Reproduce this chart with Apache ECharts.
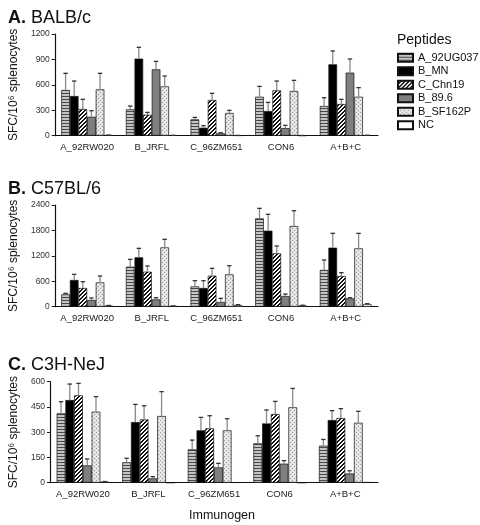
<!DOCTYPE html>
<html><head><meta charset="utf-8">
<script src="https://cdn.jsdelivr.net/npm/echarts@6/dist/echarts.min.js"></script>
<style>html,body{margin:0;padding:0;background:#fff}#c{width:480px;height:525px}</style>
</head><body><div id="c"></div>
<script>
const categories = ['A_92RW020','B_JRFL','C_96ZM651','CON6','A+B+C'];
const peptides = ['A_92UG037','B_MN','C_Chn19','B_89.6','B_SF162P','NC'];
const panelTitles = ['A.|BALB/c','B.|C57BL/6','C.|C3H-NeJ'];
const yMax = [1200, 2400, 600];
const yStep = [300, 600, 150];

// BALB/c means (per peptide, per immunogen) and SD
const balbMeans = [[539,311,193,460,350],[468,909,94,291,842],[315,248,421,535,374],[224,783,28,90,744],[547,582,268,527,460],[6,4,3,2,5]];
const balbSD    = [[197,39,23,122,98],[177,134,24,102,158],[114,27,79,110,55],[71,94,7,32,161],[189,122,31,126,107],[2,1,1,1,1]];
// C57BL/6
const c57Means = [[291,944,480,2085,866],[630,1165,441,1794,1393],[441,826,732,1259,724],[157,173,110,252,197],[574,1400,763,1904,1377],[25,15,40,30,63]];
const c57SD    = [[24,173,134,236,236],[133,212,173,386,338],[149,134,173,173,79],[48,39,87,47,15],[150,190,205,362,354],[5,4,8,5,8]];
// C3H-NeJ
const c3hMeans = [[412,121,198,234,220],[491,360,311,352,372],[519,376,323,408,384],[103,26,91,113,55],[422,396,311,448,356],[6,0,2,0,3]];
const c3hSD    = [[69,24,55,45,37],[95,105,77,80,56],[71,81,75,75,56],[38,10,24,18,16],[89,145,69,112,68],[1,0,0,0,0]];

const allMeans = [balbMeans, c57Means, c3hMeans];
const allSD = [balbSD, c57SD, c3hSD];

function makeCanvas(w, h, draw){ const c=document.createElement('canvas'); c.width=w; c.height=h; const g=c.getContext('2d'); draw(g); return c; }
const hStripe = makeCanvas(4,3,g=>{g.fillStyle='#c4c4c4';g.fillRect(0,0,4,3);g.fillStyle='#4a4a4a';g.fillRect(0,0,4,1);});
const diag = makeCanvas(4,4,g=>{g.fillStyle='#fff';g.fillRect(0,0,4,4);g.fillStyle='#111';for(let x=0;x<4;x++)for(let y=0;y<4;y++){if((x+y)%4===2||(x+y)%4===3)g.fillRect(x,y,1,1);}});
const dots = makeCanvas(4,4,g=>{g.fillStyle='#e2e2e2';g.fillRect(0,0,4,4);g.fillStyle='#9a9a9a';g.fillRect(0,0,1,1);g.fillRect(2,2,1,1);g.fillStyle='#f6f6f6';g.fillRect(2,0,1,1);g.fillRect(0,2,1,1);});
const fills = [{image:hStripe,repeat:'repeat'}, '#000000', {image:diag,repeat:'repeat'}, '#7f7f7f', {image:dots,repeat:'repeat'}, '#ffffff'];

const grids = [{top:34,h:101.7},{top:205,h:101.7},{top:381.7,h:101}];
const titleTops = [4, 175, 351];
const NB = peptides.length;
const catGap = 0.2;

const option = {
  animation:false,
  textStyle:{fontFamily:'Liberation Sans, Arial, sans-serif'},
  title: panelTitles.map((t,i)=>{const p=t.split('|');return {text:'{b|'+p[0]+'} '+p[1], left:3, top:titleTops[i], textStyle:{fontSize:18,fontWeight:'normal',color:'#111',fontFamily:'Liberation Sans', rich:{b:{fontSize:18,fontWeight:'bold',color:'#111',fontFamily:'Liberation Sans'}}}};}),
  legend:{
    data:peptides, orient:'vertical', left:397, top:52, padding:0, itemWidth:15, itemHeight:8, itemGap:2, icon:'rect',
    textStyle:{fontSize:11, lineHeight:11.5, color:'#111', fontFamily:'Liberation Sans', overflow:'none'}
  },
  graphic:[
    {type:'text', left:397, top:33, style:{text:'Peptides', fontSize:14, fill:'#111', fontFamily:'Liberation Sans'}},
    {type:'text', left:189, top:509, style:{text:'Immunogen', fontSize:12.5, fill:'#111', fontFamily:'Liberation Sans'}}
  ],
  grid: grids.map(g=>({left:41, right:102, top:g.top, height:g.h, containLabel:false})),
  xAxis: grids.map((g,i)=>({type:'category', gridIndex:i, data:categories,
    axisLine:{lineStyle:{color:'#111',width:1.2}}, axisTick:{length:3,lineStyle:{color:'#111'}},
    axisLabel:{fontSize:9.5,color:'#222',margin:7,interval:0}})),
  yAxis: grids.map((g,i)=>({type:'value', gridIndex:i, min:0, max:yMax[i], interval:yStep[i],
    name:'SFC/10⁶ splenocytes', nameLocation:'middle', nameRotate:90, nameGap:26,
    nameTextStyle:{fontSize:12, color:'#111', fontFamily:'Liberation Sans'},
    axisLine:{show:true,lineStyle:{color:'#111',width:1.2}}, axisTick:{show:true,length:3,lineStyle:{color:'#111'}},
    splitLine:{show:false}, axisLabel:{fontSize:8.5,color:'#333',margin:5, formatter:v=>String(v)}})),
  series: []
};

for (let p=0;p<3;p++){
  for (let s=0;s<NB;s++){
    option.series.push({type:'bar', name:peptides[s], xAxisIndex:p, yAxisIndex:p,
      data:allMeans[p][s], barGap:'0%', barCategoryGap:(catGap*100)+'%',
      itemStyle:{color:fills[s], borderColor:'#111', borderWidth:0.7}, z:2});
  }
  for (let s=0;s<NB;s++){
    const data = allMeans[p][s].map((v,k)=>[k, v, allSD[p][s][k]]);
    option.series.push({type:'custom', name:'err'+p+'_'+s, xAxisIndex:p, yAxisIndex:p, z:5, data:data,
      renderItem:(function(si){return function(params, api){
        const k=api.value(0), v=api.value(1), sd=api.value(2);
        if (!(sd>0)) return null;
        const base = api.coord([k, v]);
        const top = api.coord([k, v+sd]);
        const band = api.size([1,0])[0];
        const bw = band*(1-catGap)/NB;
        const x = base[0] + (si-(NB-1)/2)*bw;
        return {type:'group', children:[
          {type:'line', shape:{x1:x,y1:base[1],x2:x,y2:top[1]}, style:{stroke:'#8a8a8a',lineWidth:1.3}},
          {type:'line', shape:{x1:x-2.2,y1:top[1],x2:x+2.2,y2:top[1]}, style:{stroke:'#333',lineWidth:1.3}}
        ]};
      };})(s)});
  }
}

const chart = echarts.init(document.getElementById('c'), null, {renderer:'canvas'});
chart.setOption(option);
</script></body></html>
